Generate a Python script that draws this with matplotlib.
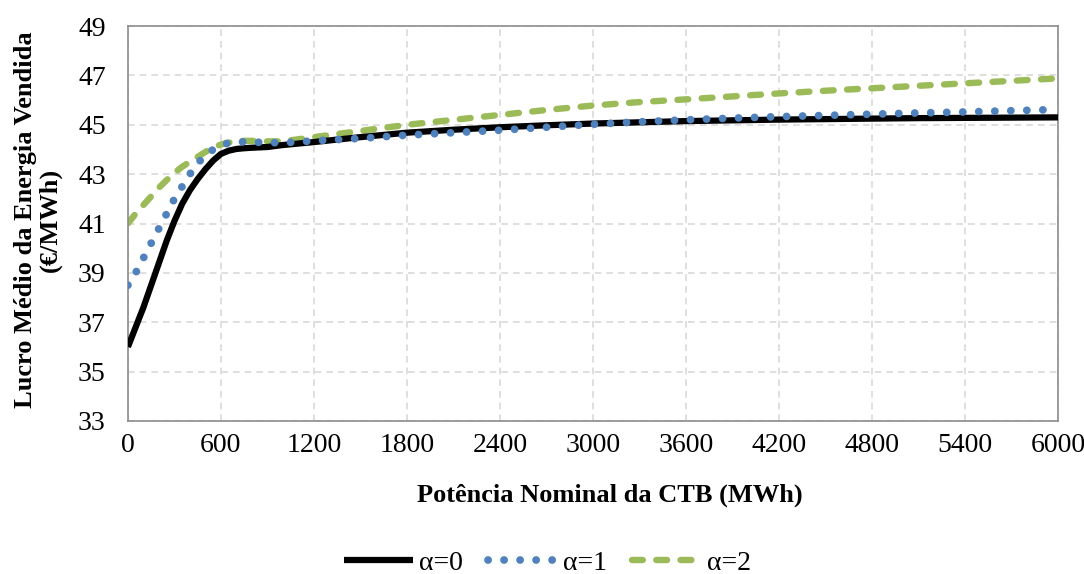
import numpy as np
import matplotlib.pyplot as plt

plt.rcParams['font.family'] = ['Liberation Serif', 'DejaVu Serif']

potencia = [0, 50, 100, 150, 200, 250, 300, 350, 400, 450, 500, 550, 600, 650, 700, 750,
            800, 900, 1000, 1200, 1500, 1800, 2100, 2400, 2700, 3000, 3300, 3600, 3900,
            4200, 4500, 4800, 5100, 5400, 5700, 6000]
alfa0 = [36.0, 36.8, 37.6, 38.5, 39.4, 40.3, 41.1, 41.8, 42.35, 42.8, 43.2, 43.55, 43.82,
         43.95, 44.02, 44.05, 44.07, 44.1, 44.18, 44.3, 44.5, 44.68, 44.8, 44.9, 44.98,
         45.05, 45.1, 45.15, 45.18, 45.21, 45.23, 45.25, 45.27, 45.28, 45.29, 45.3]
alfa1 = [38.5, 39.0, 39.6, 40.2, 40.8, 41.4, 42.0, 42.5, 43.0, 43.45, 43.75, 44.0, 44.15,
         44.27, 44.3, 44.31, 44.3, 44.28, 44.27, 44.35, 44.45, 44.58, 44.68, 44.78, 44.9,
         45.02, 45.12, 45.2, 45.27, 45.33, 45.38, 45.43, 45.48, 45.52, 45.57, 45.62]
alfa2 = [41.0, 41.4, 41.75, 42.1, 42.45, 42.76, 43.05, 43.3, 43.5, 43.7, 43.9, 44.08, 44.2,
         44.28, 44.32, 44.35, 44.35, 44.33, 44.33, 44.5, 44.75, 45.0, 45.2, 45.4, 45.6,
         45.78, 45.92, 46.03, 46.15, 46.27, 46.38, 46.48, 46.58, 46.68, 46.78, 46.88]

fig = plt.figure(figsize=(10.84, 5.74), dpi=100)
ax = fig.add_axes([0.118, 0.2666, 0.858, 0.688])

ax.plot(potencia, alfa0, color='black', lw=4.5, solid_capstyle='butt', label='α=0', zorder=3)
ax.plot(potencia, alfa1, color='#4f81bd', lw=5.6, linestyle=(0, (0.01, 2.05)),
        dash_capstyle='round', label='α=1', zorder=4)
ax.plot(potencia, alfa2, color='#9bbb59', lw=4.6, linestyle=(0, (1.7, 2.1)),
        dash_capstyle='round', label='α=2', zorder=2)

ax.set_xlim(0, 6000)
ax.set_ylim(33, 49)
ax.set_xticks(np.arange(0, 6001, 600))
ax.set_yticks(np.arange(33, 50, 2))
ax.tick_params(axis='both', labelsize=20, length=0)
ax.tick_params(axis='x', pad=9)
ax.tick_params(axis='y', pad=16)
ax.grid(True, color='#d9d9d9', linestyle=(0, (4, 3)), lw=1.2)
ax.set_axisbelow(True)

for s in ax.spines.values():
    s.set_color('#8c8c8c')
    s.set_linewidth(1.2)

fig.text(0.563, 0.1376, 'Potência Nominal da CTB (MWh)', fontsize=19, fontweight='bold',
         ha='center', va='center')
fig.text(0.035, 0.617, 'Lucro Médio da Energia Vendida\n(€/MWh)', fontsize=19,
         fontweight='bold', rotation=90, ha='center', va='center', linespacing=1.1)

fig.legend(loc='center', bbox_to_anchor=(0.505, 0.019), ncol=3, frameon=False,
           fontsize=20, handlelength=2.5, columnspacing=0.9, handletextpad=0.2,
           borderpad=0, borderaxespad=0)

fig.savefig('out.png', dpi=100)
